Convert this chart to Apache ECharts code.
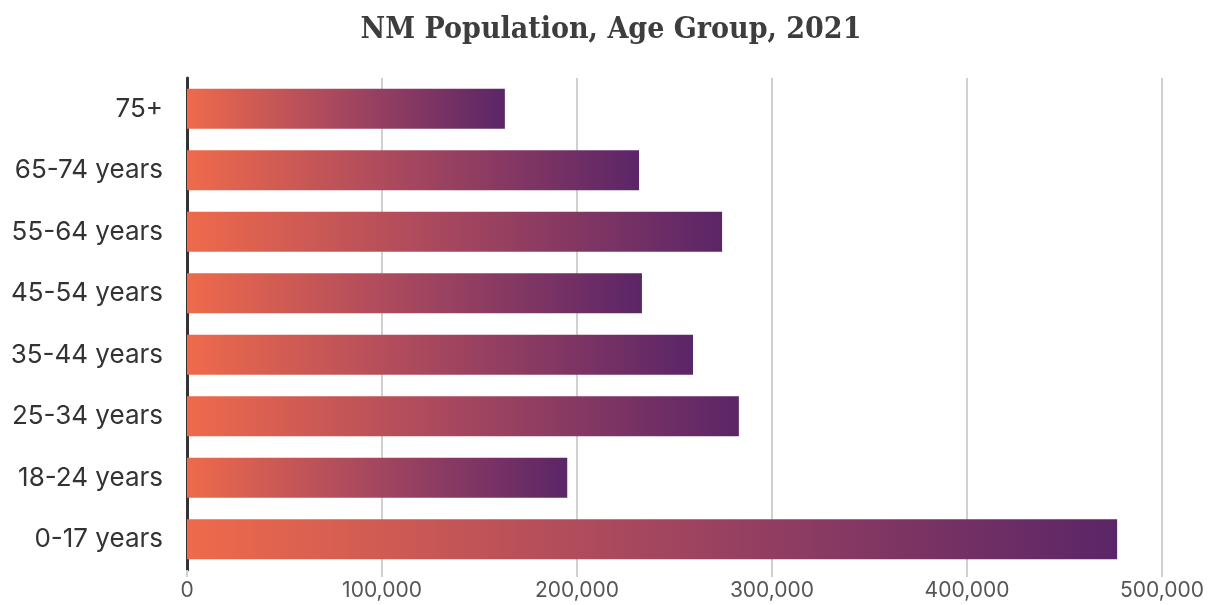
<!DOCTYPE html>
<html><head><meta charset="utf-8">
<script src="https://cdn.jsdelivr.net/npm/echarts@6/dist/echarts.min.js"></script>
<style>html,body{margin:0;padding:0;background:#fff}#c{width:1222px;height:605px}</style>
</head><body><div id="c"></div>
<script>
const categories = ["0-17 years","18-24 years","25-34 years","35-44 years","45-54 years","55-64 years","65-74 years","75+"];
const population = [477000, 195000, 283000, 259500, 233300, 274400, 231800, 163000];
const xTicks = [0, 100000, 200000, 300000, 400000, 500000];

const chart = echarts.init(document.getElementById('c'));
chart.setOption({
  animation: false,
  title: {
    text: 'NM Population, Age Group, 2021',
    left: 'center', top: 10,
    textStyle: { fontFamily: '"DejaVu Serif Condensed", "DejaVu Serif"', fontWeight: 'bold', fontSize: 30, color: '#3d3d3d' }
  },
  grid: { left: 187, right: 60, top: 78, bottom: 35 },
  xAxis: {
    type: 'value', min: xTicks[0], max: xTicks[xTicks.length-1], interval: 100000,
    axisLine: { show: false },
    axisTick: { show: true, length: 7, lineStyle: { color: '#d0d0d0', width: 2 } },
    splitLine: { show: true, lineStyle: { color: '#d0d0d0', width: 2 } },
    axisLabel: { fontFamily: 'Inter, Roboto, sans-serif', fontSize: 21, color: '#555', margin: 10,
      formatter: v => v.toLocaleString('en-US') }
  },
  yAxis: {
    type: 'category', data: categories,
    axisLine: { show: true, lineStyle: { color: '#333', width: 3 } },
    axisTick: { show: false },
    axisLabel: { fontFamily: 'Inter, Roboto, sans-serif', fontSize: 26, color: '#333', margin: 24 }
  },
  series: [{
    type: 'bar', data: population, barCategoryGap: '35%',
    itemStyle: {
      color: new echarts.graphic.LinearGradient(0, 0, 1, 0, [
        { offset: 0, color: '#ef6a4b' },
        { offset: 0.5, color: '#a4465f' },
        { offset: 1, color: '#5b2567' }
      ])
    }
  }]
});
</script></body></html>
